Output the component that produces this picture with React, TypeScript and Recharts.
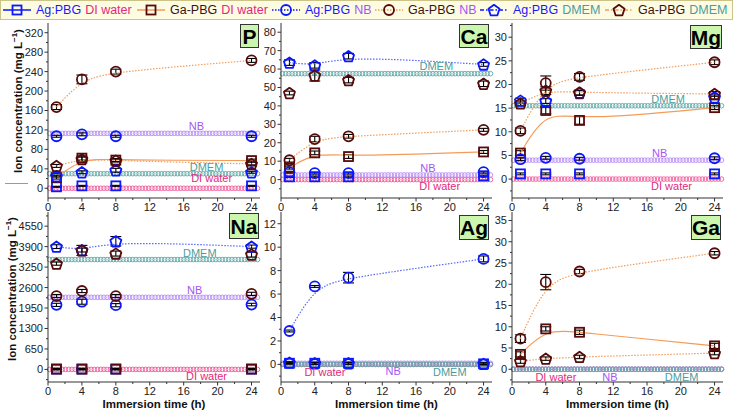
import React from 'react';
import { ComposedChart, Line, XAxis, YAxis, ErrorBar, ReferenceLine, ReferenceDot } from 'recharts';

const FONT = '"Liberation Sans", Arial, Helvetica, sans-serif';
const AXIS = '#333';
const BLUE = '#0b18ff';
const BROWN = '#560a0a';
const ORANGE = '#f39c5a';
const LBLUE = '#5566ff';

// immersion times (h)
const times = [1, 4, 8, 24];
const xTicks = [0, 4, 8, 12, 16, 20, 24];
const xMinor = [2, 6, 10, 14, 18, 22];

// ---- P ----
const pTicks = [0, 40, 80, 120, 160, 200, 240, 280, 320];
const pMinor = [20, 60, 100, 140, 180, 220, 260, 300];
const pAgDI = [3, 5, 5, 5];
const pGaDI = [22, 62, 58, 57];
const pAgNB = [107, 111, 107, 107];
const pGaNB = [167, 224, 240, 263];
const pAgDM = [25, 33, 37, 33];
const pGaDM = [46, 60, 57, 50];
const pAgDIe = [1, 1, 1, 1];
const pGaDIe = [3, 4, 3, 3];
const pAgNBe = [2, 3, 2, 2];
const pGaNBe = [5, 9, 5, 4];
const pAgDMe = [2, 3, 4, 2];
const pGaDMe = [3, 4, 3, 4];
const pMedia = [0, 113, 30]; // DI water, NB, DMEM

// ---- Ca ----
const caTicks = [0, 10, 20, 30, 40, 50, 60, 70, 80];
const caMinor = [-5, 5, 15, 25, 35, 45, 55, 65, 75];
const caAgDI = [1.5, 1.5, 1.5, 2];
const caGaDI = [6.5, 14.5, 12.5, 15];
const caAgNB = [4, 3.5, 3.5, 4];
const caGaNB = [10.5, 22, 23.5, 27];
const caAgDM = [63.5, 62, 67, 62.5];
const caGaDM = [47, 56.5, 54, 52];
const caAgDIe = [0.4, 0.4, 0.4, 0.4];
const caGaDIe = [0.8, 1, 1, 0.8];
const caAgNBe = [0.5, 0.5, 0.5, 0.5];
const caGaNBe = [1, 1.5, 1, 0.8];
const caAgDMe = [1.5, 1.5, 1.5, 1];
const caGaDMe = [1, 3, 1.5, 1.5];
const caMedia = [0, 2.5, 57.5];

// ---- Mg ----
const mgTicks = [0, 5, 10, 15, 20, 25, 30];
const mgMinor = [-2.5, 2.5, 7.5, 12.5, 17.5, 22.5, 27.5, 32.5];
const mgAgDI = [1.1, 1.1, 1.1, 1.1];
const mgGaDI = [5.5, 14.5, 12.4, 15.1];
const mgAgNB = [4.2, 4.5, 4.3, 4.4];
const mgGaNB = [10.2, 20.3, 21.6, 24.7];
const mgAgDM = [16.6, 16.5, 18.2, 17.3];
const mgGaDM = [16, 18.7, 18.3, 18];
const mgAgDIe = [0.2, 0.2, 0.2, 0.2];
const mgGaDIe = [0.5, 0.7, 0.8, 0.4];
const mgAgNBe = [0.3, 0.3, 0.3, 0.3];
const mgGaNBe = [0.6, 1.5, 0.7, 0.5];
const mgAgDMe = [0.5, 0.5, 0.5, 0.5];
const mgGaDMe = [0.5, 0.8, 0.5, 0.5];
const mgMedia = [0, 4, 15.5];

// ---- Na ----
const naTicks = [0, 650, 1300, 1950, 2600, 3250, 3900, 4550];
const naMinor = [-325, 325, 975, 1625, 2275, 2925, 3575, 4225, 4875];
const naAgDI = [10, 10, 10, 10];
const naGaDI = [10, 10, 10, 10];
const naAgNB = [2050, 2150, 2040, 2060];
const naGaNB = [2330, 2490, 2330, 2400];
const naAgDM = [3900, 3790, 4070, 3900];
const naGaDM = [3360, 3780, 3680, 3650];
const naAgDIe = [20, 20, 20, 20];
const naGaDIe = [20, 20, 20, 20];
const naAgNBe = [50, 80, 50, 40];
const naGaNBe = [50, 50, 50, 50];
const naAgDMe = [60, 60, 150, 50];
const naGaDMe = [50, 160, 80, 80];
const naMedia = [0, 2290, 3490];

// ---- Ag ----
const agTicks = [0, 2, 4, 6, 8, 10, 12];
const agMinor = [-1, 1, 3, 5, 7, 9, 11];
const agAgDI = [0.1, 0.1, 0.1, 0.05];
const agAgNB = [2.85, 6.65, 7.4, 9.0];
const agAgDM = [0.15, 0.1, 0.1, 0.05];
const agAgDIe = [0.08, 0.08, 0.08, 0.08];
const agAgNBe = [0.08, 0.08, 0.45, 0.25];
const agAgDMe = [0.08, 0.08, 0.08, 0.08];
const agMedia = [0, 0.1, 0];

// ---- Ga ----
const gaTicks = [0, 5, 10, 15, 20, 25, 30, 35];
const gaMinor = [-2.5, 2.5, 7.5, 12.5, 17.5, 22.5, 27.5, 32.5];
const gaGaDI = [3.5, 9.5, 8.7, 5.5];
const gaGaNB = [7.2, 20.5, 23, 27.3];
const gaGaDM = [1.9, 2.5, 2.9, 3.8];
const gaGaDIe = [0.6, 0.5, 0.5, 0.6];
const gaGaNBe = [0.9, 1.8, 0.5, 0.4];
const gaGaDMe = [0.5, 0.4, 0.4, 0.4];
const gaMedia = [0, 0, 0];

const SERIES = [
  { key: 'agDI', org: 'Ag:PBG', med: 0, shape: 'square', color: BLUE, curve: LBLUE, dash: undefined as string | undefined, legendDash: undefined as string | undefined },
  { key: 'gaDI', org: 'Ga-PBG', med: 0, shape: 'square', color: BROWN, curve: ORANGE, dash: undefined, legendDash: undefined },
  { key: 'agNB', org: 'Ag:PBG', med: 1, shape: 'circle', color: BLUE, curve: LBLUE, dash: '1.5 1.5', legendDash: '1.5 1.5' },
  { key: 'gaNB', org: 'Ga-PBG', med: 1, shape: 'circle', color: BROWN, curve: ORANGE, dash: '1.5 1.5', legendDash: '1.5 1.5' },
  { key: 'agDM', org: 'Ag:PBG', med: 2, shape: 'pentagon', color: BLUE, curve: LBLUE, dash: '1.5 1.5', legendDash: '4 2 1.5 2' },
  { key: 'gaDM', org: 'Ga-PBG', med: 2, shape: 'pentagon', color: BROWN, curve: ORANGE, dash: '1.5 1.5', legendDash: '4 2 1.5 2' },
];

const MEDIA = [
  { name: 'DI water', line: '#ee5a98', text: '#e22a7c' },
  { name: 'NB', line: '#b78af6', text: '#a256f2' },
  { name: 'DMEM', line: '#5fa9a7', text: '#4b9d9d' },
];

const TOP = { top: 0, h: 212, mt: 23, xh: 14 };
const BOT = { top: 205, h: 206, mt: 7, xh: 29 };
const COL = [
  { left: 0, w: 262, yw: 48 },
  { left: 240, w: 254, yw: 41 },
  { left: 470, w: 255, yw: 42 },
];

const PANELS = [
  {
    name: 'P', row: TOP, col: COL[0], domain: [-20, 340], ticks: pTicks, minor: pMinor,
    values: { agDI: pAgDI, gaDI: pGaDI, agNB: pAgNB, gaNB: pGaNB, agDM: pAgDM, gaDM: pGaDM },
    errors: { agDI: pAgDIe, gaDI: pGaDIe, agNB: pAgNBe, gaNB: pGaNBe, agDM: pAgDMe, gaDM: pGaDMe },
    curves: ['gaDI', 'gaNB', 'gaDM'], media: pMedia,
    labels: [{ x: 19.3, side: 'top', off: 6 }, { x: 17.5, side: 'top', off: 3 }, { x: 18.7, side: 'top', off: 3 }],
    box: { left: 240, top: 24, w: 19, h: 24 },
  },
  {
    name: 'Ca', row: TOP, col: COL[1], domain: [-10, 85], ticks: caTicks, minor: caMinor,
    values: { agDI: caAgDI, gaDI: caGaDI, agNB: caAgNB, gaNB: caGaNB, agDM: caAgDM, gaDM: caGaDM },
    errors: { agDI: caAgDIe, gaDI: caGaDIe, agNB: caAgNBe, gaNB: caGaNBe, agDM: caAgDMe, gaDM: caGaDMe },
    curves: ['agDM', 'gaNB', 'gaDI'], media: caMedia,
    labels: [{ x: 18.8, side: 'bottom', off: 3 }, { x: 17.4, side: 'top', off: 3 }, { x: 18.4, side: 'top', off: 4 }],
    box: { left: 459, top: 24, w: 30, h: 24 },
  },
  {
    name: 'Mg', row: TOP, col: COL[2], domain: [-4, 33], ticks: mgTicks, minor: mgMinor,
    values: { agDI: mgAgDI, gaDI: mgGaDI, agNB: mgAgNB, gaNB: mgGaNB, agDM: mgAgDM, gaDM: mgGaDM },
    errors: { agDI: mgAgDIe, gaDI: mgGaDIe, agNB: mgAgNBe, gaNB: mgGaNBe, agDM: mgAgDMe, gaDM: mgGaDMe },
    curves: ['gaNB', 'gaDM', 'gaDI'], media: mgMedia,
    labels: [{ x: 18.9, side: 'bottom', off: 3 }, { x: 17.5, side: 'top', off: 3 }, { x: 18.5, side: 'top', off: 3 }],
    box: { left: 690, top: 25, w: 32, h: 24 },
  },
  {
    name: 'Na', row: BOT, col: COL[0], domain: [-400, 5000], ticks: naTicks, minor: naMinor,
    values: { agDI: naAgDI, gaDI: naGaDI, agNB: naAgNB, gaNB: naGaNB, agDM: naAgDM, gaDM: naGaDM },
    errors: { agDI: naAgDIe, gaDI: naGaDIe, agNB: naAgNBe, gaNB: naGaNBe, agDM: naAgDMe, gaDM: naGaDMe },
    curves: ['agDM'], media: naMedia,
    labels: [{ x: 18.7, side: 'bottom', off: 3 }, { x: 17.3, side: 'top', off: 3 }, { x: 17.9, side: 'top', off: 3 }],
    box: { left: 229, top: 213, w: 30, h: 26 },
  },
  {
    name: 'Ag', row: BOT, col: COL[1], domain: [-1.5, 13], ticks: agTicks, minor: agMinor,
    values: { agDI: agAgDI, agNB: agAgNB, agDM: agAgDM },
    errors: { agDI: agAgDIe, agNB: agAgNBe, agDM: agAgDMe },
    curves: ['agNB'], media: agMedia,
    labels: [{ x: 5.2, side: 'bottom', off: 4 }, { x: 13.3, side: 'bottom', off: 4 }, { x: 20, side: 'bottom', off: 4 }],
    box: { left: 459, top: 215, w: 30, h: 25 },
  },
  {
    name: 'Ga', row: BOT, col: COL[2], domain: [-3, 37], ticks: gaTicks, minor: gaMinor,
    values: { gaDI: gaGaDI, gaNB: gaGaNB, gaDM: gaGaDM },
    errors: { gaDI: gaGaDIe, gaNB: gaGaNBe, gaDM: gaGaDMe },
    curves: ['gaNB', 'gaDI', 'gaDM'], media: gaMedia,
    labels: [{ x: 5.2, side: 'bottom', off: 4 }, { x: 11.6, side: 'bottom', off: 4 }, { x: 20.1, side: 'bottom', off: 4 }],
    box: { left: 691, top: 215, w: 30, h: 25 },
  },
];

function Marker({ cx, cy, shape, color }: any) {
  if (cx == null || cy == null) return null;
  const common = { fill: 'none', stroke: color, strokeWidth: 1.8 };
  if (shape === 'square') return <rect x={cx - 4.5} y={cy - 4.5} width={9} height={9} {...common} />;
  if (shape === 'circle') return <circle cx={cx} cy={cy} r={5} {...common} />;
  const r = 5.8;
  const pts = [0, 1, 2, 3, 4]
    .map((k) => {
      const a = ((-90 + 72 * k) * Math.PI) / 180;
      return `${cx + r * Math.cos(a)},${cy + 0.6 + r * Math.sin(a)}`;
    })
    .join(' ');
  return <polygon points={pts} {...common} strokeLinejoin="round" />;
}

const chain = (color: string) => (props: any) => {
  const { x1, x2, y1 } = props;
  if (x1 == null || x2 == null) return <g />;
  const step = 3.2;
  const n = Math.floor((x2 - x1 - 3) / step);
  const cs = [];
  for (let i = 0; i <= n; i++) {
    cs.push(<circle key={i} cx={x1 + 1.5 + i * step} cy={y1} r={2.3} fill="none" stroke={color} strokeWidth={0.9} />);
  }
  return <g>{cs}</g>;
};

function XTick({ x, y, payload, showLabel }: any) {
  const v = payload.value;
  const major = xTicks.includes(v);
  return (
    <g>
      <line x1={x} x2={x} y1={y} y2={y + (major ? 3.5 : 2)} stroke={AXIS} />
      {major && showLabel && (
        <text x={x} y={y + 12.5} textAnchor="middle" fontSize={11} fill="#222">{v}</text>
      )}
    </g>
  );
}

function YTick({ x, y, payload, majors }: any) {
  const v = payload.value;
  const major = majors.includes(v);
  return (
    <g>
      <line x1={x - (major ? 3.5 : 2)} x2={x} y1={y} y2={y} stroke={AXIS} />
      {major && (
        <text x={x - 5} y={y} dy="0.36em" textAnchor="end" fontSize={11} fill="#222">{v}</text>
      )}
    </g>
  );
}

function Panel({ cfg }: any) {
  const { row, col } = cfg;
  const data = times.map((t, i) => {
    const r: any = { t };
    SERIES.forEach((s) => {
      const v = cfg.values[s.key];
      if (v) {
        r[s.key] = v[i];
        r[s.key + 'E'] = cfg.errors[s.key][i];
      }
    });
    return r;
  });
  const isBottom = row === BOT;
  return (
    <>
      <div style={{ position: 'absolute', left: col.left, top: row.top }}>
        <ComposedChart width={col.w} height={row.h} data={data} margin={{ top: row.mt, right: 2, bottom: 0, left: 0 }}>
          <XAxis
            dataKey="t" type="number" domain={[0, 25]} allowDataOverflow
            ticks={[...xTicks, ...xMinor]} interval={0} tickSize={0} tickMargin={0} tickLine={false}
            axisLine={{ stroke: AXIS }} height={row.xh}
            tick={(p: any) => <XTick {...p} showLabel />}
            label={isBottom ? { value: 'Immersion time (h)', position: 'insideBottom', offset: 3, fill: '#111', fontSize: 11.5, fontWeight: 700 } : undefined}
          />
          <XAxis xAxisId="top" orientation="top" type="number" domain={[0, 25]} height={0} tick={false} tickLine={false} axisLine={{ stroke: AXIS }} />
          <YAxis
            type="number" domain={cfg.domain} allowDataOverflow
            ticks={[...cfg.ticks, ...cfg.minor]} interval={0} tickSize={0} tickMargin={0} tickLine={false}
            axisLine={{ stroke: AXIS }} width={col.yw}
            tick={(p: any) => <YTick {...p} majors={cfg.ticks} />}
          />
          <YAxis yAxisId="r" orientation="right" type="number" domain={[0, 1]} width={0} tick={false} tickLine={false} axisLine={{ stroke: AXIS }} />
          {MEDIA.map((m, i) => (
            <ReferenceLine key={m.name} y={cfg.media[i]} stroke={m.line} shape={chain(m.line)} />
          ))}
          {MEDIA.map((m, i) => (
            <ReferenceDot
              key={'l' + m.name} x={cfg.labels[i].x} y={cfg.media[i]} r={0} fill="none" stroke="none"
              label={{ value: m.name, position: cfg.labels[i].side, offset: cfg.labels[i].off, fill: m.text, fontSize: 11 }}
            />
          ))}
          {SERIES.filter((s) => cfg.values[s.key]).map((s) => {
            const curve = cfg.curves.includes(s.key);
            return (
              <Line
                key={s.key} dataKey={s.key} type="basis" isAnimationActive={false}
                stroke={curve ? s.curve : 'none'} strokeWidth={1.2} strokeDasharray={s.dash}
                activeDot={false}
                dot={(p: any) => <Marker key={`${s.key}-${p.index}`} cx={p.cx} cy={p.cy} shape={s.shape} color={s.color} />}
              >
                <ErrorBar dataKey={s.key + 'E'} width={5.5} stroke="#000" strokeWidth={1.1} direction="y" />
              </Line>
            );
          })}
        </ComposedChart>
      </div>
      <div
        style={{
          position: 'absolute', left: cfg.box.left, top: cfg.box.top, width: cfg.box.w, height: cfg.box.h,
          boxSizing: 'border-box', background: '#ccf5ae', border: '1px solid #333',
          display: 'flex', alignItems: 'center', justifyContent: 'center',
          fontWeight: 700, fontSize: 21, color: '#000', lineHeight: 1,
        }}
      >
        {cfg.name}
      </div>
    </>
  );
}

function LegendSymbol({ s }: any) {
  return (
    <svg width={30} height={20} style={{ display: 'block' }}>
      <line x1={1} x2={29} y1={10} y2={10} stroke={s.org === 'Ag:PBG' ? BLUE : ORANGE} strokeWidth={1.5} strokeDasharray={s.legendDash} />
      <Marker cx={15} cy={10} shape={s.shape} color={s.color} />
    </svg>
  );
}

const LEGEND_LEFT = [2, 136, 271, 374, 479, 604];

function Legend() {
  return (
    <div
      style={{
        position: 'absolute', left: 0, top: 0, width: 733, height: 20, boxSizing: 'border-box',
        background: '#fdfbe2', border: '1px solid #cbc387',
      }}
    >
      {SERIES.map((s, i) => (
        <div key={s.key} style={{ position: 'absolute', left: LEGEND_LEFT[i] - 1, top: -1, height: 20, display: 'flex', alignItems: 'center', fontSize: 12.5, whiteSpace: 'nowrap' }}>
          <LegendSymbol s={s} />
          <span style={{ marginLeft: 4, color: s.org === 'Ag:PBG' ? '#1a1aff' : '#3a1212' }}>{s.org}</span>
          <span style={{ marginLeft: 4, color: MEDIA[s.med].text }}>{MEDIA[s.med].name}</span>
        </div>
      ))}
    </div>
  );
}

export default function App() {
  return (
    <div style={{ position: 'absolute', left: 0, top: 0, width: 733, height: 411, fontFamily: FONT, background: '#fff' }}>
      <Legend />
      {PANELS.map((p) => (
        <Panel key={p.name} cfg={p} />
      ))}
      <div style={{ position: 'absolute', left: 5, top: 183, width: 23, height: 1, background: '#9a9a9a' }} />
      <svg width={733} height={411} style={{ position: 'absolute', left: 0, top: 0, pointerEvents: 'none' }}>
        <text transform="rotate(-90 17.5 101)" x={17.5} y={101} textAnchor="middle" dominantBaseline="central" fontSize={11.5} fontWeight={700} fill="#111">
          Ion concentration (mg L<tspan dy={-4} fontSize={8}>−1</tspan><tspan dy={4}>)</tspan>
        </text>
        <text transform="rotate(-90 11.5 289)" x={11.5} y={289} textAnchor="middle" dominantBaseline="central" fontSize={11.5} fontWeight={700} fill="#111">
          Ion concentration (mg L<tspan dy={-4} fontSize={8}>−1</tspan><tspan dy={4}>)</tspan>
        </text>
      </svg>
    </div>
  );
}
